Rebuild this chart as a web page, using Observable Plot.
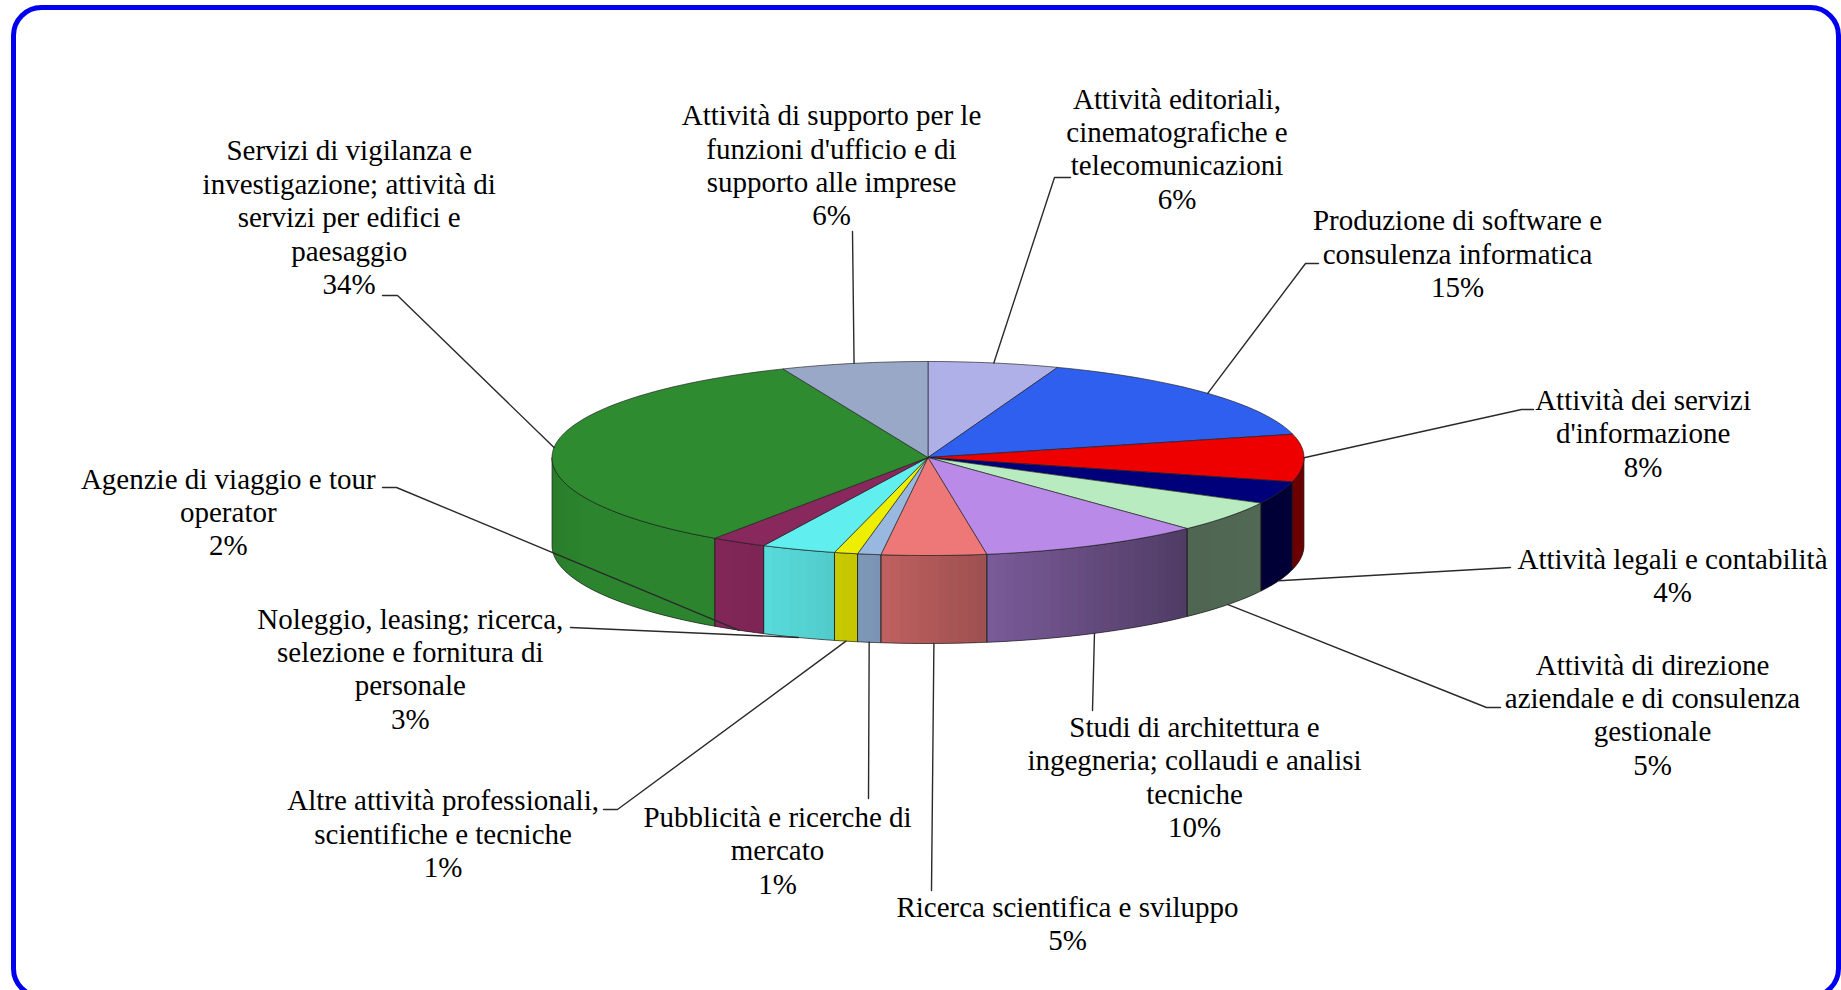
<!DOCTYPE html>
<html>
<head>
<meta charset="utf-8">
<style>html,body{margin:0;padding:0;background:#fff;overflow:hidden}</style>
<script src="https://cdn.jsdelivr.net/npm/d3@7"></script>
<script src="https://cdn.jsdelivr.net/npm/@observablehq/plot@0.6"></script>
</head>
<body>
<div id="chart"></div>
<script>
const categories = [
  "Attività editoriali,\ncinematografiche e\ntelecomunicazioni",
  "Produzione di software e\nconsulenza informatica",
  "Attività dei servizi\nd'informazione",
  "Attività legali e contabilità",
  "Attività di direzione\naziendale e di consulenza\ngestionale",
  "Studi di architettura e\ningegneria; collaudi e analisi\ntecniche",
  "Ricerca scientifica e sviluppo",
  "Pubblicità e ricerche di\nmercato",
  "Altre attività professionali,\nscientifiche e tecniche",
  "Noleggio, leasing; ricerca,\nselezione e fornitura di\npersonale",
  "Agenzie di viaggio e tour\noperator",
  "Servizi di vigilanza e\ninvestigazione; attività di\nservizi per edifici e\npaesaggio",
  "Attività di supporto per le\nfunzioni d'ufficio e di\nsupporto alle imprese"
];
const shares = [5.6, 15.5, 7.9, 3.7, 5.2, 9.6, 4.5, 1.0, 1.0, 3.2, 2.4, 34.1, 6.3];
const percentLabels = [6, 15, 8, 4, 5, 10, 5, 1, 1, 3, 2, 34, 6];
const colors = ["#b0b0e8", "#2f5fee", "#ee0000", "#00007a", "#b8ecc0", "#b98ae8", "#ee7878",
                "#98b8e0", "#eeee00", "#60eeee", "#88285c", "#2e8b30", "#9aa8c8"];

// Layout, in page pixels
const labelX = [1176.5, 1457, 1642.6, 1672, 1652, 1194, 1067, 777, 442.6, 409.8, 227.8, 348.7, 831];
const labelY = [147.5, 252.6, 432, 574, 713.5, 775.7, 922.4, 849, 832.6, 667.6, 510.9, 216, 164];
const leaderPathX = [[1054, 1070], [1305, 1318], [1521, 1533], [1510], [1486, 1500], [1092], [931], [868], [617, 603], [570], [396, 382], [397, 382], [852]];
const leaderPathY = [[177, 177], [263, 263], [409, 409], [567], [707, 707], [710], [890], [798], [809, 809], [627], [487, 487], [295, 295], [231]];

const W = 1841, H = 990;
const cx = 927.5, cy = 457, rx = 376, ryBack = 96, ryFront = 98, depth = 88;
const total = d3.sum(shares);
const bounds = [0, ...d3.cumsum(shares)].map(v => v / total * 2 * Math.PI);
const rim = (t, down = 0) => {
  const c = Math.cos(t);
  return [cx + rx * Math.sin(t), cy - c * (c > 0 ? ryBack : ryFront) + down];
};
const shade = d3.scaleLinear()
  .domain([-1, -0.9, -0.57, -0.43, -0.25, -0.12, 0.16, 0.69, 1])
  .range([0.9, 0.96, 0.96, 0.92, 0.85, 0.8, 0.66, 0.43, 0.45]);
const tint = (c, k) => { const r = d3.rgb(c); return d3.rgb(r.r * k, r.g * k, r.b * k).formatHex(); };
const angles = (a, b, step) => {
  const n = Math.max(1, Math.ceil((b - a) / step));
  return d3.range(n + 1).map(i => a + (b - a) * i / n);
};

const faces = [], strips = [], outlines = [], leaders = [], labels = [];
const step = Math.PI / 120;
shares.forEach((_, i) => {
  const a = bounds[i], b = bounds[i + 1];
  faces.push({id: i, x: cx, y: cy, color: colors[i]});
  for (const t of angles(a, b, step)) {
    const [x, y] = rim(t);
    faces.push({id: i, x, y, color: colors[i]});
  }
  faces.push({id: i, x: cx, y: cy, color: colors[i]});

  const lo = Math.max(a, Math.PI / 2), hi = Math.min(b, 1.5 * Math.PI);
  if (lo < hi) {
    const ts = angles(lo, hi, step);
    d3.pairs(ts).forEach(([t0, t1], j) => {
      const color = tint(colors[i], shade(Math.sin((t0 + t1) / 2)));
      const id = `${i}-${j}`;
      // each strip runs on under the next one, so no seam shows between them
      const end = ts[j + 2] ?? t1;
      for (const [t, d] of [[t0, 0], [end, 0], [end, depth], [t0, depth]]) {
        const [x, y] = rim(t, d);
        strips.push({id, x, y, color});
      }
    });
    const ring = [...ts.map(t => rim(t)), ...ts.slice().reverse().map(t => rim(t, depth))];
    ring.push(ring[0]);
    ring.forEach(([x, y]) => outlines.push({id: i, x, y}));
  }

  const mid = (a + b) / 2;
  const front = mid > 1.6 && mid < 1.48 * Math.PI;
  const [sx, sy] = rim(mid, front ? depth : 0);
  leaders.push({id: i, x: sx, y: sy});
  leaderPathX[i].forEach((x, j) => leaders.push({id: i, x, y: leaderPathY[i][j]}));

  labels.push({x: labelX[i], y: labelY[i], text: `${categories[i]}\n${percentLabels[i]}%`});
});

const plot = Plot.plot({
  width: W, height: H,
  margin: 0,
  x: {domain: [0, W], range: [0, W], axis: null},
  y: {domain: [0, H], range: [0, H], axis: null},
  color: {type: "identity"},
  marks: [
    Plot.line(strips, {x: "x", y: "y", z: "id", fill: "color", stroke: null}),
    Plot.line(outlines, {x: "x", y: "y", z: "id", stroke: "#1c1c1c", strokeWidth: 0.8, strokeOpacity: 0.85}),
    Plot.line(faces, {x: "x", y: "y", z: "id", fill: "color", stroke: "#1c1c1c", strokeWidth: 0.8, strokeOpacity: 0.8}),
    Plot.line(leaders, {x: "x", y: "y", z: "id", stroke: "#2a2a2a", strokeWidth: 1.4}),
    Plot.text(labels, {x: "x", y: "y", text: "text", fontFamily: "Liberation Serif", fontSize: 29, lineHeight: 33.4 / 29, fill: "#000", textAnchor: "middle", lineAnchor: "middle"}),
    Plot.frame({stroke: "#0000ee", strokeWidth: 5, rx: 28, insetLeft: 13, insetTop: 7, insetRight: 3, insetBottom: -6})
  ]
});
document.getElementById("chart").appendChild(plot);
</script>
</body>
</html>
